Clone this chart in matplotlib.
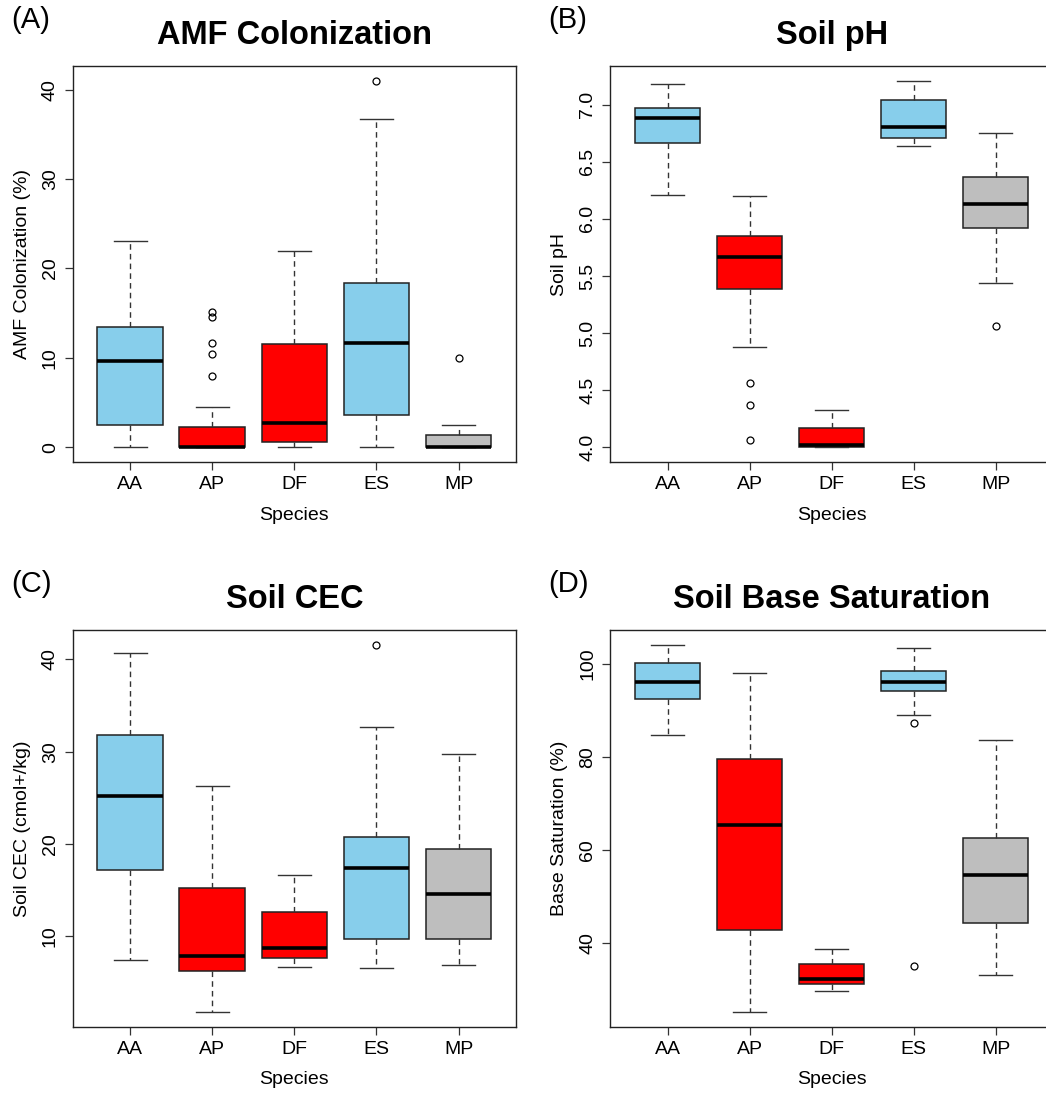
import matplotlib.pyplot as plt

plt.rcParams['font.family'] = ['Liberation Sans', 'DejaVu Sans']

species = ['AA', 'AP', 'DF', 'ES', 'MP']
box_colors = ['#87CEEB', '#FF0000', '#FF0000', '#87CEEB', '#BEBEBE']

# (A) AMF colonization (%)
amf_lo = [0.0, 0.0, 0.0, 0.0, 0.0]
amf_q1 = [2.46, 0.0, 0.6, 3.65, 0.0]
amf_med = [9.65, 0.0, 2.76, 11.7, 0.0]
amf_q3 = [13.5, 2.27, 11.5, 18.4, 1.42]
amf_hi = [23.1, 4.5, 21.97, 36.7, 2.46]
amf_out = [[], [15.1, 14.6, 11.7, 10.4, 8.0], [], [41.0], [9.98]]

# (B) soil pH
ph_lo = [6.207, 4.88, 4.0, 6.641, 5.44]
ph_q1 = [6.668, 5.382, 4.006, 6.711, 5.921]
ph_med = [6.886, 5.668, 4.02, 6.805, 6.128]
ph_q3 = [6.974, 5.851, 4.172, 7.038, 6.367]
ph_hi = [7.178, 6.198, 4.327, 7.21, 6.755]
ph_out = [[], [4.56, 4.367, 4.061], [], [], [5.058]]

# (C) soil CEC (cmol+/kg)
cec_lo = [7.40, 1.81, 6.65, 6.57, 6.9]
cec_q1 = [17.14, 6.21, 7.66, 9.71, 9.71]
cec_med = [25.18, 7.91, 8.74, 17.39, 14.58]
cec_q3 = [31.85, 15.23, 12.67, 20.71, 19.48]
cec_hi = [40.65, 26.3, 16.6, 32.65, 29.8]
cec_out = [[], [], [], [41.59], []]

# (D) base saturation (%)
bs_lo = [84.64, 25.21, 29.79, 89.07, 33.07]
bs_q1 = [92.5, 42.86, 31.14, 94.14, 44.29]
bs_med = [96.14, 65.36, 32.36, 96.07, 54.64]
bs_q3 = [100.07, 79.43, 35.5, 98.43, 62.64]
bs_hi = [104.07, 98.0, 38.79, 103.43, 83.71]
bs_out = [[], [], [], [87.36, 35.07], []]

W, H = 1046, 1094
fig = plt.figure(figsize=(W / 100, H / 100), dpi=100)


def make_ax(left, right, top, bottom):
    return fig.add_axes([left / W, 1 - bottom / H, (right - left) / W, (bottom - top) / H])


def panel(ax, lo, q1, med, q3, hi, out, title, ylabel, yticks, ticklabels, letter, lx, ly):
    stats = []
    for i in range(len(species)):
        stats.append({'whislo': lo[i], 'q1': q1[i], 'med': med[i], 'q3': q3[i],
                      'whishi': hi[i], 'fliers': out[i], 'label': species[i]})
    bp = ax.bxp(stats, positions=range(1, 6), widths=0.8, capwidths=0.4,
                patch_artist=True, showfliers=True,
                boxprops=dict(edgecolor='#222222', linewidth=1.1),
                medianprops=dict(color='black', linewidth=2.6, solid_capstyle='butt'),
                whiskerprops=dict(color='#333333', linewidth=1.0, linestyle=(0, (4, 3))),
                capprops=dict(color='#333333', linewidth=1.0),
                flierprops=dict(marker='o', markerfacecolor='none', markeredgecolor='black',
                                markersize=5, markeredgewidth=0.9))
    for patch, c in zip(bp['boxes'], box_colors):
        patch.set_facecolor(c)

    allv = lo + hi + [v for f in out for v in f]
    vmin, vmax = min(allv), max(allv)
    pad = (vmax - vmin) * 0.04
    ax.set_ylim(vmin - pad, vmax + pad)
    ax.set_xlim(0.3, 5.7)

    ax.set_xticks(range(1, 6))
    ax.set_xticklabels(species, fontsize=14)
    ax.set_yticks(yticks)
    ax.set_yticklabels(ticklabels, fontsize=14, rotation=90, va='center')
    ax.tick_params(axis='both', direction='out', length=6, width=0.9, color='#333333', pad=4)
    for s in ax.spines.values():
        s.set_color('#222222')
        s.set_linewidth(1.0)

    ax.set_xlabel('Species', fontsize=14, labelpad=10)
    ax.set_ylabel(ylabel, fontsize=14, labelpad=8)
    ax.set_title(title, fontsize=23.5, fontweight='bold', pad=16)
    fig.text(lx / W, 1 - ly / H, letter, fontsize=21, ha='left', va='top')


ax_a = make_ax(72.7, 516, 66, 462)
panel(ax_a, amf_lo, amf_q1, amf_med, amf_q3, amf_hi, amf_out,
      'AMF Colonization', 'AMF Colonization (%)',
      [0, 10, 20, 30, 40], ['0', '10', '20', '30', '40'], '(A)', 11, 6)

ax_b = make_ax(610.3, 1053, 66, 462)
panel(ax_b, ph_lo, ph_q1, ph_med, ph_q3, ph_hi, ph_out,
      'Soil pH', 'Soil pH',
      [4.0, 4.5, 5.0, 5.5, 6.0, 6.5, 7.0],
      ['4.0', '4.5', '5.0', '5.5', '6.0', '6.5', '7.0'], '(B)', 548, 6)

ax_c = make_ax(72.7, 516, 630, 1026.7)
panel(ax_c, cec_lo, cec_q1, cec_med, cec_q3, cec_hi, cec_out,
      'Soil CEC', 'Soil CEC (cmol+/kg)',
      [10, 20, 30, 40], ['10', '20', '30', '40'], '(C)', 11, 570)

ax_d = make_ax(610.3, 1053, 630, 1026.7)
panel(ax_d, bs_lo, bs_q1, bs_med, bs_q3, bs_hi, bs_out,
      'Soil Base Saturation', 'Base Saturation (%)',
      [40, 60, 80, 100], ['40', '60', '80', '100'], '(D)', 548, 570)

plt.savefig('out.png', dpi=100)
